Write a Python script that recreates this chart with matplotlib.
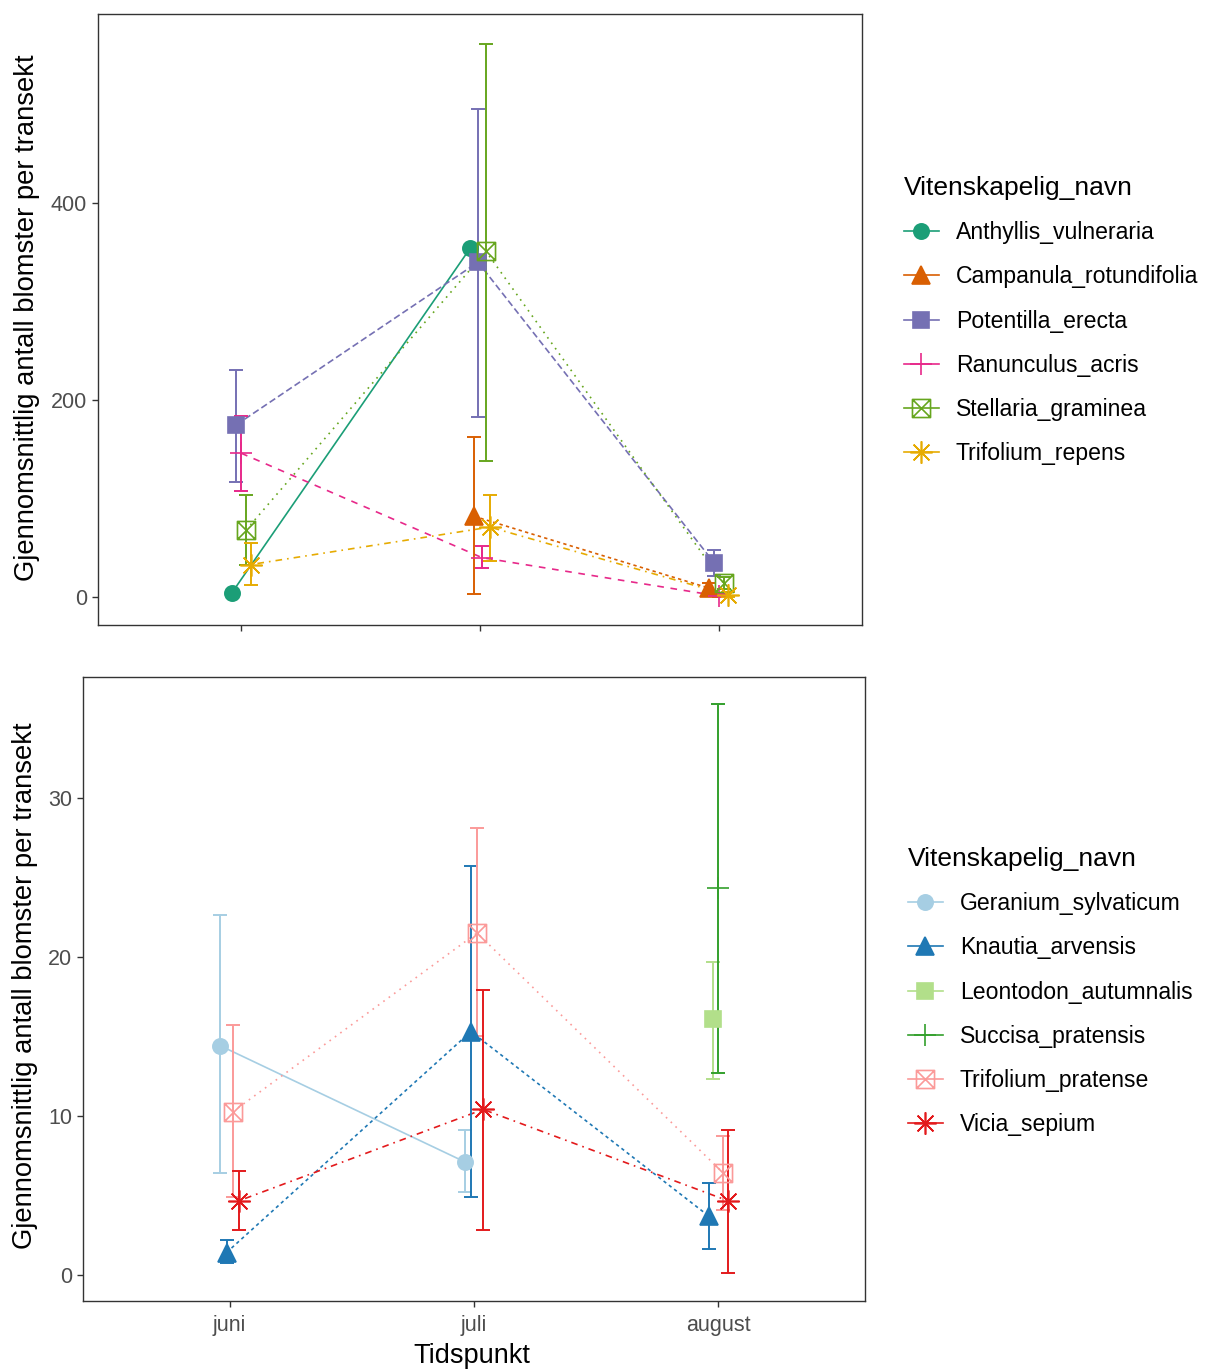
import numpy as np
import matplotlib
matplotlib.use("Agg")
import matplotlib.pyplot as plt
from matplotlib.lines import Line2D
from matplotlib.path import Path

nan = np.nan

months = ["juni", "juli", "august"]

top_names = ["Anthyllis_vulneraria", "Campanula_rotundifolia", "Potentilla_erecta",
             "Ranunculus_acris", "Stellaria_graminea", "Trifolium_repens"]
top_mean = [
    [4, 354, nan],
    [nan, 82, 9],
    [175, 340, 35],
    [146, 40, 1],
    [68, 351, 14],
    [33, 71, 2],
]
top_low = [
    [nan, nan, nan],
    [nan, 3, 4],
    [117, 183, 21],
    [108, 29, 0],
    [33, 138, 8],
    [12, 37, 0],
]
top_high = [
    [nan, nan, nan],
    [nan, 162, 14],
    [231, 496, 48],
    [184, 52, 3],
    [104, 562, 20],
    [55, 104, 5],
]

bot_names = ["Geranium_sylvaticum", "Knautia_arvensis", "Leontodon_autumnalis",
             "Succisa_pratensis", "Trifolium_pratense", "Vicia_sepium"]
bot_mean = [
    [14.4, 7.1, nan],
    [1.4, 15.3, 3.7],
    [nan, nan, 16.1],
    [nan, nan, 24.3],
    [10.25, 21.5, 6.4],
    [4.65, 10.4, 4.65],
]
bot_low = [
    [6.4, 5.2, nan],
    [0.75, 4.9, 1.6],
    [nan, nan, 12.3],
    [nan, nan, 12.7],
    [4.9, 15.0, 4.1],
    [2.8, 2.8, 0.1],
]
bot_high = [
    [22.6, 9.1, nan],
    [2.2, 25.7, 5.8],
    [nan, nan, 19.7],
    [nan, nan, 35.9],
    [15.7, 28.1, 8.7],
    [6.5, 17.9, 9.1],
]

dark2 = ["#1B9E77", "#D95F02", "#7570B3", "#E7298A", "#66A61E", "#E6AB02"]
paired = ["#A6CEE3", "#1F78B4", "#B2DF8A", "#33A02C", "#FB9A99", "#E31A1C"]

# square with a cross inside (ggplot shape 7)
sq_x = Path(
    [(-1, -1), (1, -1), (1, 1), (-1, 1), (-1, -1), (-1, -1), (1, 1), (-1, 1), (1, -1)],
    [Path.MOVETO, Path.LINETO, Path.LINETO, Path.LINETO, Path.CLOSEPOLY,
     Path.MOVETO, Path.LINETO, Path.MOVETO, Path.LINETO],
)
markers = ["o", "^", "s", "+", sq_x, (8, 2, 0)]
msizes = [11, 13, 11, 16, 13, 16]
filled = [True, True, True, False, False, False]
linestyles = ["-", (0, (2, 2)), (0, (4, 2)), (0, (4, 4)), (0, (1, 3)), (0, (1, 3, 4, 3))]

plt.rcParams.update({
    "font.family": ["Liberation Sans", "DejaVu Sans"],
    "axes.edgecolor": "#333333",
    "axes.linewidth": 1.0,
    "xtick.color": "#333333",
    "ytick.color": "#333333",
    "xtick.labelcolor": "#4D4D4D",
    "ytick.labelcolor": "#4D4D4D",
    "xtick.labelsize": 15.5,
    "ytick.labelsize": 15.5,
    "xtick.major.size": 4.5,
    "ytick.major.size": 4.5,
    "xtick.major.width": 1.0,
    "ytick.major.width": 1.0,
    "xtick.major.pad": 5.5,
})


def dodge(means, width=0.1):
    arr = np.array(means, dtype=float)
    off = np.full(arr.shape, nan)
    for j in range(arr.shape[1]):
        present = np.where(~np.isnan(arr[:, j]))[0]
        n = len(present)
        for k, i in enumerate(present):
            off[i, j] = (k - (n - 1) / 2) * width / n
    return off


def draw_panel(ax, names, means, lows, highs, colors):
    base = np.arange(1, len(months) + 1)
    off = dodge(means)
    handles = []
    for i, name in enumerate(names):
        m = np.array(means[i], dtype=float)
        lo = np.array(lows[i], dtype=float)
        hi = np.array(highs[i], dtype=float)
        x = base + off[i]
        c = colors[i]
        ax.plot(x, m, color=c, lw=1.2, ls=linestyles[i], zorder=2)
        ok = ~np.isnan(lo)
        if ok.any():
            ax.errorbar(x[ok], m[ok], yerr=[m[ok] - lo[ok], hi[ok] - m[ok]], fmt="none",
                        ecolor=c, elinewidth=1.4, capsize=5, capthick=1.4, zorder=3)
        fc = c if filled[i] else "none"
        ax.plot(x, m, ls="none", marker=markers[i], ms=msizes[i], mfc=fc, mec=c,
                mew=1.2, zorder=4)
        handles.append(Line2D([], [], color=c, lw=1.2, marker=markers[i], ms=msizes[i],
                              mfc=fc, mec=c, mew=1.2))
    ax.set_xlim(0.4, 3.6)
    ax.set_xticks(base)
    return handles


W, H = 1208, 1371
fig = plt.figure(figsize=(W / 100, H / 100), dpi=100)

ax1 = fig.add_axes([98 / W, 1 - 625 / H, (862 - 98) / W, (625 - 14) / H])
h1 = draw_panel(ax1, top_names, top_mean, top_low, top_high, dark2)
ax1.set_ylim(-28.4, 592)
ax1.set_yticks([0, 200, 400])
ax1.set_xticklabels([])

ax2 = fig.add_axes([83 / W, 1 - 1301 / H, (865 - 83) / W, (1301 - 677) / H])
h2 = draw_panel(ax2, bot_names, bot_mean, bot_low, bot_high, paired)
ax2.set_ylim(-1.65, 37.6)
ax2.set_yticks([0, 10, 20, 30])
ax2.set_xticklabels(months)

ylab = "Gjennomsnittlig antall blomster per transekt"
fig.text(27 / W, 1 - 318 / H, ylab, rotation=90, ha="center", va="center", fontsize=19.7)
fig.text(25 / W, 1 - 986 / H, ylab, rotation=90, ha="center", va="center", fontsize=19.7)
fig.text(472 / W, 1 - 1356 / H, "Tidspunkt", ha="center", va="center", fontsize=19.5)

for ax, h, names, x0, y0 in [(ax1, h1, top_names, 904, 176), (ax2, h2, bot_names, 908, 847)]:
    ax.legend(h, names, loc="upper left", bbox_to_anchor=(x0 / W, 1 - y0 / H),
              bbox_transform=fig.transFigure, frameon=False, title="Vitenskapelig_navn",
              alignment="left", fontsize=16.6, title_fontsize=19, labelspacing=0.92,
              handlelength=1.5, handletextpad=0.75, borderpad=0, borderaxespad=0)

fig.savefig("out.png", dpi=100)
